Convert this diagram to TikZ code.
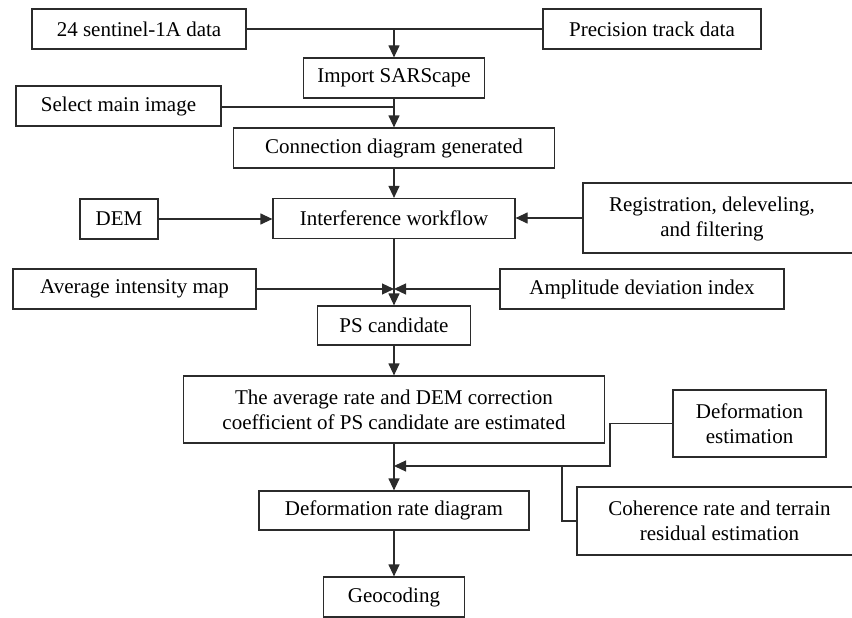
\documentclass[tikz,border=0pt]{standalone}
\usepackage{fontspec}
\setmainfont{Liberation Serif}
\usetikzlibrary{arrows.meta}
\definecolor{ink}{HTML}{2B2B2B}
\begin{document}
\begin{tikzpicture}[x=1pt,y=-1pt,
  box/.style={draw=ink, line width=1.2pt, rectangle, inner sep=0pt, minimum height=40pt, align=center, text=black},
  txt/.style={inner sep=0pt, align=center, text=black},
  conn/.style={draw=ink, line width=1.2pt},
  arr/.style={conn, -{Triangle[length=12pt,width=11pt]}},
  font=\fontsize{21}{25}\selectfont]
\useasboundingbox (0,0) rectangle (852,618);
\clip (0,0) rectangle (852,618);
% nodes
\node[box, minimum width=214pt] (s1) at (139,29) {24 sentinel-1A data};
\node[box, minimum width=218pt] (pt) at (652,29) {Precision track data};
\node[box, minimum width=181pt] (imp) at (394,78) {Import SARScape};
\node[box, minimum width=205pt] (sel) at (118.5,106) {Select main image};
\node[box, minimum width=321pt] (con) at (394,148) {Connection diagram generated};
\node[box, minimum width=78pt] (dem) at (119,219) {DEM};
\node[box, minimum width=242pt] (intf) at (394,218.5) {Interference workflow};
\node[box, minimum width=274pt, minimum height=70pt] (reg) at (720,218) {};
\node[txt] (regt) at (712,219) {Registration, deleveling,\\and filtering};
\node[box, minimum width=243pt] (avg) at (134.5,289) {Average intensity map};
\node[box, minimum width=284pt] (amp) at (642,289) {Amplitude deviation index};
\node[box, minimum width=153pt, minimum height=39pt] (ps) at (394,325.5) {PS candidate};
\node[box, minimum width=421pt, minimum height=67pt] (big) at (394,409.5) {The average rate and DEM correction\\coefficient of PS candidate are estimated};
\node[box, minimum width=153pt, minimum height=67pt] (defe) at (749.5,423.5) {Deformation\\estimation};
\node[box, minimum width=285pt, minimum height=68pt] (coh) at (719.5,521) {Coherence rate and terrain\\residual estimation};
\node[box, minimum width=270pt, minimum height=39pt] (dr) at (394,510.5) {Deformation rate diagram};
\node[box, minimum width=141pt] (geo) at (394,597) {Geocoding};
% junctions
\coordinate (j1) at (394,29);
\coordinate (js) at (394,107);
\coordinate (j2) at (394,289);
\coordinate (j3) at (394,466);
\coordinate (k1) at (610,466);
\coordinate (k2) at (562,466);
% connectors
\draw[conn] (s1.east) -- (pt.west);
\draw[arr] (j1) -- (imp.north);
\draw[arr] (imp.south) -- (con.north);
\draw[conn] (sel.east |- js) -- (js);
\draw[arr] (con.south) -- (intf.north);
\draw[arr] (dem.east) -- (dem.east -| intf.west);
\draw[arr] (reg.west) -- (reg.west -| intf.east);
\draw[arr] (intf.south) -- (ps.north);
\draw[arr] (avg.east) -- (j2);
\draw[arr] (amp.west) -- (j2);
\draw[arr] (ps.south) -- (big.north);
\draw[arr] (big.south) -- (dr.north);
\draw[arr] (defe.west) -| (k1) -- (j3);
\draw[conn] (k2) |- (coh.west);
\draw[arr] (dr.south) -- (geo.north);
\end{tikzpicture}
\end{document}
